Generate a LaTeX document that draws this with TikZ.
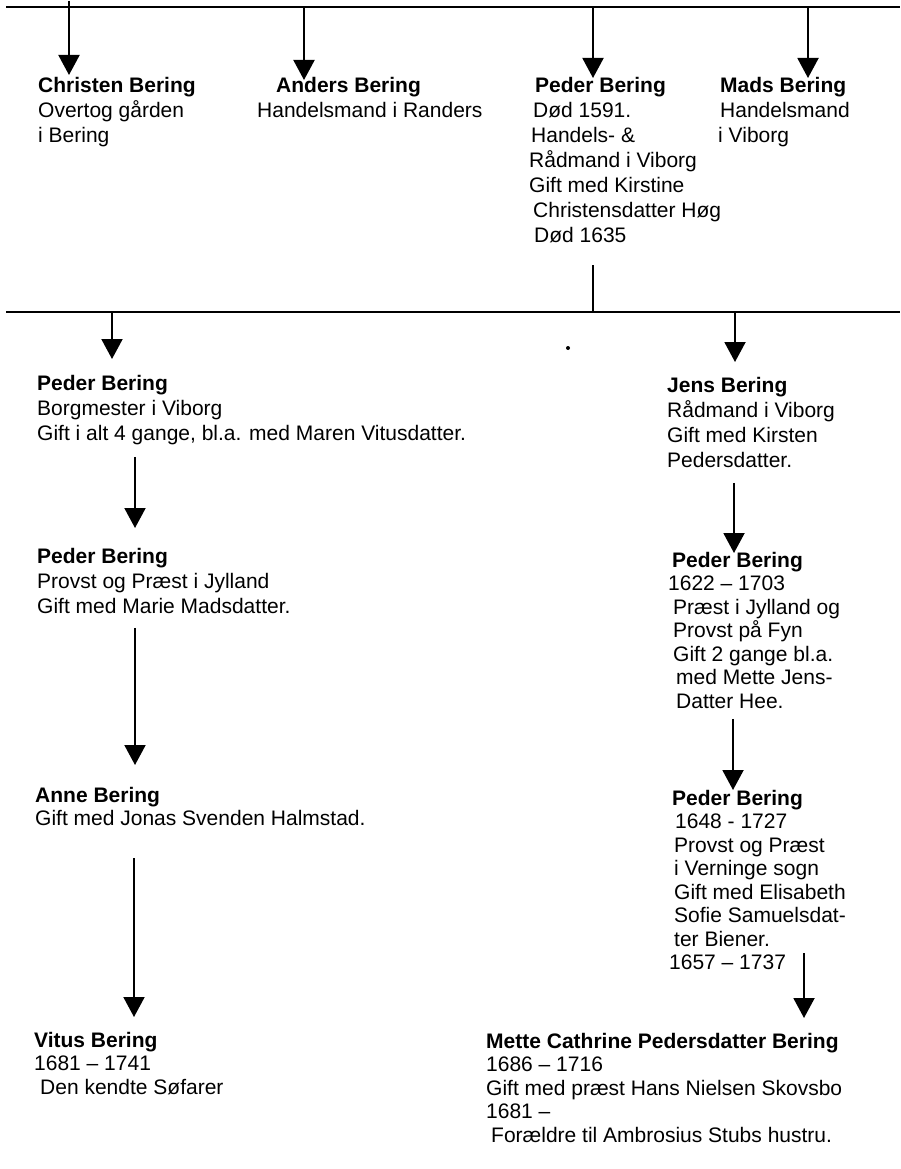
\documentclass[tikz,border=0pt]{standalone}
\usepackage{fontspec}
\setmainfont{Liberation Sans}
\usepackage{tikz}
\usetikzlibrary{arrows.meta}

\begin{document}
\begin{tikzpicture}[x=1pt,y=-1pt,
    person/.style={anchor=north west, inner sep=0pt, align=left,
      font=\fontsize{21}{25}\selectfont},
    tight/.style={font=\fontsize{21}{23.5}\selectfont},
    line/.style={line width=2pt},
    arr/.style={line width=2pt, -{Triangle[width=21pt,length=20pt]}}]
    \useasboundingbox (0,0) rectangle (900,1169);

    % the two long lines
    \coordinate (topW) at (6,7);
    \coordinate (topE) at (900,7);
    \coordinate (midW) at (6,312);
    \coordinate (midE) at (900,312);
    \draw[line] (topW) -- (topE);
    \draw[line] (midW) -- (midE);

    % first row
    \node[person] (christen) at (38,77) {\textbf{Christen Bering}\\Overtog gården\\i Bering};
    \node[person] (anders) at (257,77) {\hspace*{19pt}\textbf{Anders Bering}\\Handelsmand i Randers};
    \node[person] (pederA) at (529,77) {\hspace*{6pt}\textbf{Peder Bering}\\\hspace*{4pt}Død 1591.\\\hspace*{2pt}Handels- \&\\Rådmand i Viborg\\Gift med Kirstine\\\hspace*{4pt}Christensdatter Høg\\\hspace*{5pt}Død 1635};
    \node[person] (mads) at (718,77) {\hspace*{2pt}\textbf{Mads Bering}\\\hspace*{2pt}Handelsmand\\i Viborg};

    % left branch
    \node[person] (pederB) at (37,375) {\textbf{Peder Bering}\\Borgmester i Viborg\\Gift i alt 4 gange, bl.a. med Maren Vitusdatter.};
    \node[person] (pederC) at (37,548) {\textbf{Peder Bering}\\Provst og Præst i Jylland\\Gift med Marie Madsdatter.};
    \node[person, tight] (anne) at (35,787) {\textbf{Anne Bering}\\Gift med Jonas Svenden Halmstad.};
    \node[person, tight] (vitus) at (34,1032) {\textbf{Vitus Bering}\\1681 -- 1741\\\hspace*{6pt}Den kendte Søfarer};

    % right branch
    \node[person] (jens) at (667,377) {\textbf{Jens Bering}\\Rådmand i Viborg\\Gift med Kirsten\\Pedersdatter.};
    \node[person, tight] (pederD) at (668,552) {\hspace*{4pt}\textbf{Peder Bering}\\1622 -- 1703\\\hspace*{5pt}Præst i Jylland og\\\hspace*{5pt}Provst på Fyn\\\hspace*{5pt}Gift 2 gange bl.a.\\\hspace*{8pt}med Mette Jens-\\\hspace*{8pt}Datter Hee.};
    \node[person, tight] (pederE) at (669,790) {\hspace*{3pt}\textbf{Peder Bering}\\\hspace*{6pt}1648 - 1727\\\hspace*{5pt}Provst og Præst\\\hspace*{5pt}i Verninge sogn\\\hspace*{5pt}Gift med Elisabeth\\\hspace*{5pt}Sofie Samuelsdat-\\\hspace*{5pt}ter Biener.\\1657 -- 1737};
    \node[person, tight] (mette) at (486,1033) {\textbf{Mette Cathrine Pedersdatter Bering}\\1686 -- 1716\\Gift med præst Hans Nielsen Skovsbo\\1681 --\\\hspace*{5pt}Forældre til Ambrosius Stubs hustru.};

    \fill (568,348) circle (2pt);

    % top line -> first row
    \draw[arr, shorten <=-6pt, shorten >=2pt] ([xshift=31pt]christen.north west |- topW) -- ([xshift=31pt]christen.north west);
    \draw[arr, shorten >=-3pt] ([xshift=47pt]anders.north west |- topW) -- ([xshift=47pt]anders.north west);
    \draw[arr, shorten >=-1pt] ([xshift=64pt]pederA.north west |- topW) -- ([xshift=64pt]pederA.north west);
    \draw[arr, shorten >=-1pt] ([xshift=90pt]mads.north west |- topW) -- ([xshift=90pt]mads.north west);

    % Peder -> middle line
    \draw[line, shorten <=22pt] ([xshift=64pt]pederA.south west) -- ([xshift=64pt]pederA.south west |- midW);

    % middle line -> second row
    \draw[arr, shorten >=16pt] ([xshift=75pt]pederB.north west |- midW) -- ([xshift=75pt]pederB.north west);
    \draw[arr, shorten >=15pt] ([xshift=68pt]jens.north west |- midW) -- ([xshift=68pt]jens.north west);

    % down the left side
    \draw[arr] ([xshift=98pt,yshift=-12pt]pederB.south west) -- ([xshift=98pt,yshift=20pt]pederC.north west);
    \draw[arr] ([xshift=98pt,yshift=-14pt]pederC.south west) -- ([xshift=100pt,yshift=22pt]anne.north west);
    \draw[arr] ([xshift=99pt,yshift=-32pt]anne.south west) -- ([xshift=100pt,yshift=15pt]vitus.north west);

    % down the right side
    \draw[arr] ([xshift=67pt,yshift=-15pt]jens.south west) -- ([xshift=66pt,yshift=-1pt]pederD.north west);
    \draw[arr] ([xshift=65pt,yshift=-10pt]pederD.south west) -- ([xshift=64pt]pederE.north west);
    \draw[arr] ([xshift=135pt,yshift=17pt]pederE.south west) -- ([xshift=318pt,yshift=15pt]mette.north west);
\end{tikzpicture}
\end{document}
